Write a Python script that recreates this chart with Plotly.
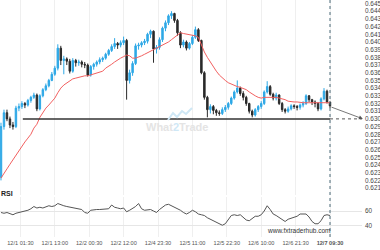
import plotly.graph_objects as go

# ---------------- data (hourly bars, index 0..110) ----------------
closes = [.6290, .6308, .6300, .6292, .6290, .6314, .6316, .6320, .6318, .6324,
          .6328, .6331, .6313, .6330, .6338, .6343, .6350, .6358, .6366, .6392,
          .6376, .6378, .6375, .6362, .6376, .6373, .6374, .6371, .6370, .6357,
          .6368, .6371, .6374, .6377, .6379, .6384, .6389, .6394, .6398, .6396,
          .6399, .6402, .6350, .6360, .6372, .6395, .6396, .6399, .6401, .6410,
          .6414, .6391, .6393, .6403, .6418, .6425, .6434, .6437, .6428, .6412,
          .6396, .6400, .6392, .6398, .6406, .6416, .6402, .6360, .6328, .6312,
          .6316, .6311, .6308, .6307, .6312, .6315, .6320, .6327, .6335, .6340,
          .6333, .6328, .6320, .6310, .6305, .6312, .6316, .6320, .6335, .6342,
          .6332, .6327, .6331, .6320, .6312, .6310, .6313, .6317, .6316, .6315,
          .6318, .6320, .6330, .6325, .6322, .6320, .6313, .6326, .6336, .6322,
          .6317]
opens = [.6224, .6290, .6308, .6300, .6292, .6290, .6314, .6316, .6320, .6318,
         .6324, .6328, .6331, .6313, .6330, .6338, .6343, .6350, .6358, .6366,
         .6392, .6376, .6378, .6375, .6362, .6376, .6373, .6374, .6371, .6370,
         .6357, .6368, .6371, .6374, .6377, .6379, .6384, .6389, .6394, .6398,
         .6396, .6399, .6402, .6350, .6360, .6372, .6395, .6396, .6399, .6401,
         .6410, .6414, .6391, .6393, .6403, .6418, .6425, .6434, .6437, .6428,
         .6412, .6396, .6400, .6392, .6398, .6406, .6416, .6402, .6360, .6328,
         .6312, .6316, .6311, .6308, .6307, .6312, .6315, .6320, .6327, .6335,
         .6340, .6333, .6328, .6320, .6310, .6305, .6312, .6316, .6320, .6335,
         .6342, .6332, .6327, .6331, .6320, .6312, .6310, .6313, .6317, .6316,
         .6315, .6318, .6320, .6330, .6325, .6322, .6320, .6313, .6326, .6336,
         .6322]
highs = [.6295, .6312, .6312, .6303, .6296, .6317, .6320, .6323, .6322, .6326,
         .6330, .6334, .6333, .6332, .6340, .6346, .6352, .6361, .6369, .6397,
         .6395, .6382, .6380, .6378, .6379, .6378, .6377, .6376, .6374, .6372,
         .6370, .6373, .6376, .6380, .6381, .6386, .6391, .6397, .6405, .6400,
         .6402, .6407, .6404, .6364, .6375, .6398, .6399, .6401, .6404, .6412,
         .6416, .6415, .6396, .6406, .6420, .6428, .6436, .6440, .6438, .6430,
         .6414, .6403, .6402, .6400, .6409, .6420, .6418, .6403, .6362, .6330,
         .6319, .6318, .6313, .6311, .6315, .6318, .6322, .6329, .6337, .6350,
         .6342, .6336, .6330, .6321, .6312, .6314, .6318, .6323, .6337, .6349,
         .6344, .6334, .6334, .6332, .6322, .6314, .6316, .6319, .6319, .6318,
         .6320, .6323, .6332, .6331, .6326, .6324, .6322, .6328, .6340, .6338,
         .6321]
lows = [.6220, .6286, .6297, .6288, .6286, .6288, .6310, .6313, .6314, .6316,
        .6321, .6326, .6310, .6311, .6328, .6336, .6341, .6349, .6356, .6363,
        .6370, .6358, .6370, .6359, .6360, .6368, .6369, .6367, .6366, .6355,
        .6355, .6364, .6368, .6371, .6374, .6377, .6382, .6387, .6391, .6391,
        .6393, .6396, .6325, .6346, .6356, .6370, .6390, .6393, .6396, .6398,
        .6405, .6373, .6385, .6390, .6400, .6414, .6422, .6430, .6425, .6408,
        .6392, .6393, .6389, .6390, .6396, .6404, .6400, .6358, .6325, .6302,
        .6307, .6306, .6304, .6304, .6305, .6309, .6312, .6318, .6325, .6333,
        .6330, .6324, .6317, .6307, .6302, .6303, .6309, .6313, .6318, .6333,
        .6330, .6324, .6324, .6318, .6309, .6307, .6308, .6311, .6313, .6311,
        .6312, .6315, .6318, .6322, .6318, .6315, .6310, .6311, .6324, .6320,
        .6314]
ma_values = [.6223, .6230, .6235, .6241, .6247, .6253, .6258, .6265, .6270, .6275,
             .6280, .6288, .6293, .6302, .6309, .6314, .6318, .6323, .6327, .6334,
             .6340, .6344, .6347, .6349, .6352, .6353, .6354, .6354, .6356, .6356,
             .6357, .6358, .6360, .6361, .6362, .6366, .6368, .6371, .6374, .6377,
             .6379, .6381, .6383, .6382, .6379, .6379, .6380, .6382, .6384, .6386,
             .6388, .6390, .6391, .6393, .6395, .6397, .6400, .6403, .6406, .6409,
             .6412, .6411, .6410, .6409, .6408, .6408, .6406, .6396, .6387, .6380,
             .6374, .6367, .6362, .6357, .6353, .6350, .6347, .6345, .6343, .6342,
             .6341, .6340, .6338, .6335, .6332, .6330, .6328, .6327, .6328, .6328,
             .6328, .6328, .6328, .6327, .6326, .6325, .6323, .6322, .6322, .6322,
             .6321, .6321, .6321, .6321, .6321, .6321, .6321, .6321, .6321, .6321,
             .6321]
rsi_values = [58, 57, 58, 56, 55, 57, 58, 59, 60, 61,
              63, 66, 64, 65, 64, 66, 67, 66, 67, 70,
              68, 67, 66, 65, 64, 64, 63, 62, 58, 57,
              61, 62, 62, 62, 62, 62, 63, 68, 65, 64,
              63, 64, 59, 61, 63, 66, 70, 63, 61, 61,
              62, 60, 58, 62, 65, 68, 69, 67, 66, 64,
              61, 58, 56, 58, 61, 59, 56, 55, 54, 51,
              49, 47, 45, 43, 41, 43, 48, 54, 55, 54,
              55, 52, 48, 47, 50, 53, 53, 55, 60, 67,
              62, 56, 54, 51, 49, 46, 49, 50, 51, 53,
              56, 56, 56, 52, 46, 43, 43, 47, 54, 55,
              54]
bar_index = list(range(len(closes)))

tick_positions = [6.5, 18, 29.5, 41, 52.5, 64, 75.5, 87, 98.5, 110]
tick_labels = ["12/1 01:30", "12/1 13:00", "12/2 00:30", "12/2 12:00", "12/4 23:30",
               "12/5 11:00", "12/5 22:30", "12/6 10:00", "12/6 21:30", "<b>12/7 09:30</b>"]
price_ticks = [round(0.621 + 0.001 * k, 3) for k in range(25)]
price_grid = [round(0.620 + 0.002 * k, 3) for k in range(14)]

support_level = 0.6300
support_start = 7.3
last_index = 110
projection_end = 121
last_price = 0.6316

# ---------------- figure ----------------
W, H = 380, 250
mr, mb = 18, 13
PW, PH = W - mr, H - mb
XR = [-0.33, 120.7]

fig = go.Figure()

fig.add_trace(go.Candlestick(
    x=bar_index, open=opens, high=highs, low=lows, close=closes,
    increasing=dict(line=dict(color="#2ea8e6", width=1), fillcolor="#2ea8e6"),
    decreasing=dict(line=dict(color="#2a2a2a", width=1), fillcolor="#2a2a2a"),
    whiskerwidth=0, xaxis="x", yaxis="y", showlegend=False, hoverinfo="skip"))

fig.add_trace(go.Scatter(x=bar_index, y=ma_values, mode="lines",
                         line=dict(color="#f26060", width=1),
                         xaxis="x", yaxis="y", showlegend=False, hoverinfo="skip"))

fig.add_trace(go.Scatter(x=[support_start, last_index], y=[support_level, support_level],
                         mode="lines", line=dict(color="#333333", width=1.5),
                         xaxis="x", yaxis="y", showlegend=False, hoverinfo="skip"))
fig.add_trace(go.Scatter(x=[last_index, projection_end], y=[support_level, support_level],
                         mode="lines", line=dict(color="#555555", width=1, dash="dot"),
                         xaxis="x", yaxis="y", showlegend=False, hoverinfo="skip"))

fig.add_trace(go.Scatter(x=bar_index, y=rsi_values, mode="lines",
                         line=dict(color="#555555", width=1),
                         xaxis="x2", yaxis="y2", showlegend=False, hoverinfo="skip"))

# projection arrow
fig.add_annotation(x=projection_end, y=support_level, ax=last_index, ay=last_price,
                   xref="x", yref="y", axref="x", ayref="y", text="",
                   showarrow=True, arrowhead=2, arrowsize=1, arrowwidth=0.8,
                   arrowcolor="#555555")

# vertical dashed line at last bar
fig.add_shape(type="line", x0=last_index, x1=last_index, xref="x", y0=0, y1=1,
              yref="paper", line=dict(color="#4a6a78", width=1, dash="dot"))

def px(xp):
    return xp / PW

def py(yp):
    return (PH - yp) / PH

# watermark logo
pts = [(168, 120), (173, 113), (177, 117), (182, 111), (186, 114), (192, 108)]
path = "M " + " L ".join(f"{px(a):.4f},{py(b):.4f}" for a, b in pts)
fig.add_shape(type="path", path=path, xref="paper", yref="paper",
              line=dict(color="#cfe8f6", width=2))
fig.add_annotation(x=px(177), y=py(127), xref="paper", yref="paper",
                   text="<b>What<span style='color:#cfe8f6'>2</span>Trade</b>", showarrow=False,
                   font=dict(family="Liberation Sans, Arial", size=11, color="#e4e4e4"))

fig.add_annotation(x=px(-1), y=py(199), xref="paper", yref="paper", xanchor="left",
                   text="<b>RSI</b>", showarrow=False,
                   font=dict(family="Liberation Sans, Arial", size=7, color="#222"))
fig.add_annotation(x=px(333), y=py(236), xref="paper", yref="paper",
                   text="www.fxtraderhub.com", showarrow=False,
                   font=dict(family="Liberation Sans, Arial", size=6.5, color="#333"))

price_dom = [1 - 195 / PH, 1]
rsi_dom = [0, 40 / PH]
tickfont = dict(family="Liberation Sans, Arial", size=6.4, color="#444")

fig.update_layout(
    width=W, height=H, margin=dict(l=0, r=mr, t=0, b=mb, autoexpand=False),
    paper_bgcolor="white", plot_bgcolor="white",
    xaxis=dict(domain=[0, 1], range=XR, anchor="y", tickvals=tick_positions,
               showticklabels=False, showgrid=True, gridcolor="#efefef", gridwidth=1,
               zeroline=False, rangeslider=dict(visible=False), automargin=False),
    xaxis2=dict(domain=[0, 1], range=XR, anchor="y2", tickvals=tick_positions,
                ticktext=tick_labels, showgrid=True, gridcolor="#efefef",
                zeroline=False, ticks="", tickangle=0, automargin=False,
                ticklabelstandoff=1,
                tickfont=dict(family="Liberation Sans, Arial", size=5.6, color="#555")),
    yaxis=dict(domain=price_dom, range=[0.6201, 0.64546], side="right",
               tickvals=price_ticks, tickformat=".3f", showgrid=False,
               zeroline=False, ticks="", ticklabelstandoff=2, tickfont=tickfont,
               anchor="x", automargin=False, ticklabeloverflow="allow"),
    yaxis3=dict(domain=price_dom, range=[0.6201, 0.64546], overlaying="y",
                tickvals=price_grid, showticklabels=False, showgrid=True,
                gridcolor="#efefef", zeroline=False, anchor="x", automargin=False),
    yaxis2=dict(domain=rsi_dom, range=[25.3, 78.7], side="right", tickvals=[40, 60],
                showgrid=True, gridcolor="#e6e6e6", zeroline=False, ticks="",
                ticklabelstandoff=2, tickfont=tickfont, anchor="x2", automargin=False),
)

fig.write_html("out.html")
